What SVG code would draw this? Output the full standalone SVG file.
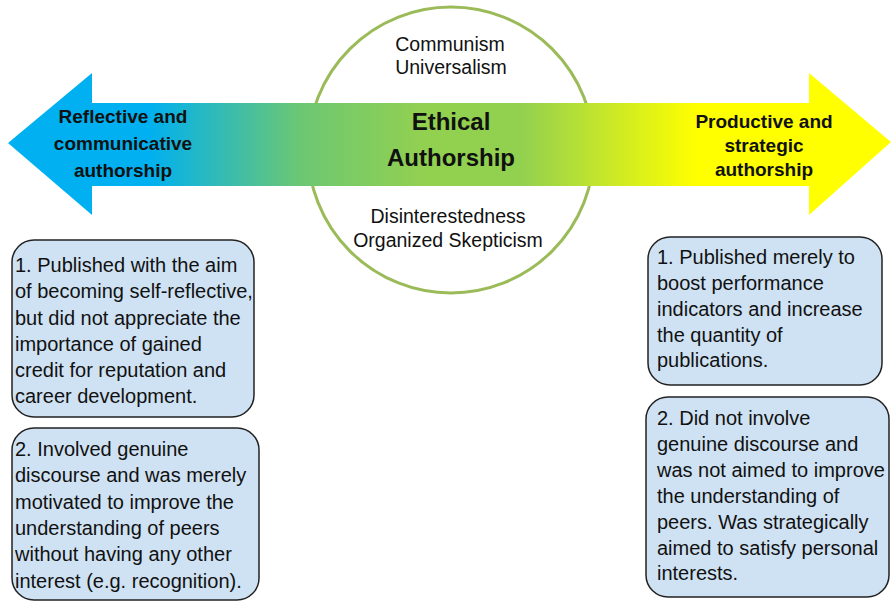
<svg xmlns="http://www.w3.org/2000/svg" width="891" height="603" viewBox="0 0 891 603">
  <defs>
    <linearGradient id="spectrum" gradientUnits="userSpaceOnUse" x1="8" y1="0" x2="891" y2="0">
      <stop offset="0" stop-color="#00B0F0"/>
      <stop offset="0.16" stop-color="#00B0F0"/>
      <stop offset="0.33" stop-color="#6CC773"/>
      <stop offset="0.47" stop-color="#92D050"/>
      <stop offset="0.58" stop-color="#92D050"/>
      <stop offset="0.78" stop-color="#FFFF00"/>
      <stop offset="1" stop-color="#FFFF00"/>
    </linearGradient>
  </defs>
  <style>
    .box { fill: #CFE2F3; stroke: #222222; stroke-width: 1.5; }
    .body { font-family: "Liberation Sans", Arial, sans-serif; font-size: 20px; fill: #111111; }
    .norm { font-family: "Liberation Sans", Arial, sans-serif; font-size: 19.5px; fill: #111111; text-anchor: middle; }
    .head { font-family: "Liberation Sans", Arial, sans-serif; font-size: 19px; font-weight: bold; fill: #111111; text-anchor: middle; }
    .title { font-family: "Liberation Sans", Arial, sans-serif; font-size: 24px; font-weight: bold; fill: #111111; text-anchor: middle; }
  </style>
  <rect width="891" height="603" fill="#FFFFFF"/>

  <g id="ethical-circle">
    <circle cx="451" cy="150" r="143" fill="#FFFFFF" stroke="#9BBB59" stroke-width="3"/>
    <text class="norm" x="450" y="51">Communism</text>
    <text class="norm" x="451" y="74">Universalism</text>
    <text class="norm" x="448" y="223">Disinterestedness</text>
    <text class="norm" x="448" y="247">Organized Skepticism</text>
  </g>

  <g id="connectors">
    <polygon id="double-arrow" points="8,143 92,73 92,103 809,103 809,73 891,142 809,215 809,186 92,186 92,215" fill="url(#spectrum)"/>
  </g>

  <g id="center-label">
    <text class="title" x="451" y="130">Ethical</text>
    <text class="title" x="451" y="166">Authorship</text>
  </g>

  <g id="left-label">
    <text class="head" x="123" y="123">Reflective and</text>
    <text class="head" x="123" y="150">communicative</text>
    <text class="head" x="123" y="177">authorship</text>
  </g>

  <g id="right-label">
    <text class="head" x="764" y="128">Productive and</text>
    <text class="head" x="764" y="152">strategic</text>
    <text class="head" x="764" y="176">authorship</text>
  </g>

  <g id="left-box-1">
    <rect class="box" x="12" y="240" width="242" height="177" rx="22"/>
    <text class="body" x="15" y="272">1. Published with the aim</text>
    <text class="body" x="15" y="298">of becoming self-reflective,</text>
    <text class="body" x="15" y="324.5">but did not appreciate the</text>
    <text class="body" x="15" y="350.5">importance of gained</text>
    <text class="body" x="15" y="377">credit for reputation and</text>
    <text class="body" x="15" y="403">career development.</text>
  </g>

  <g id="left-box-2">
    <rect class="box" x="12" y="428" width="247" height="172" rx="22"/>
    <text class="body" x="15" y="456">2. Involved genuine</text>
    <text class="body" x="15" y="482">discourse and was merely</text>
    <text class="body" x="15" y="508.5">motivated to improve the</text>
    <text class="body" x="15" y="535">understanding of peers</text>
    <text class="body" x="15" y="561">without having any other</text>
    <text class="body" x="15" y="587.5">interest (e.g. recognition).</text>
  </g>

  <g id="right-box-1">
    <rect class="box" x="648" y="237" width="234" height="148" rx="22"/>
    <text class="body" x="657" y="264">1. Published merely to</text>
    <text class="body" x="657" y="290">boost performance</text>
    <text class="body" x="657" y="316">indicators and increase</text>
    <text class="body" x="657" y="341.5">the quantity of</text>
    <text class="body" x="657" y="367">publications.</text>
  </g>

  <g id="right-box-2">
    <rect class="box" x="646" y="397" width="243" height="200" rx="22"/>
    <text class="body" x="657" y="425">2. Did not involve</text>
    <text class="body" x="657" y="451">genuine discourse and</text>
    <text class="body" x="657" y="477">was not aimed to improve</text>
    <text class="body" x="657" y="502.5">the understanding of</text>
    <text class="body" x="657" y="528.5">peers. Was strategically</text>
    <text class="body" x="657" y="554.5">aimed to satisfy personal</text>
    <text class="body" x="657" y="580">interests.</text>
  </g>
</svg>
